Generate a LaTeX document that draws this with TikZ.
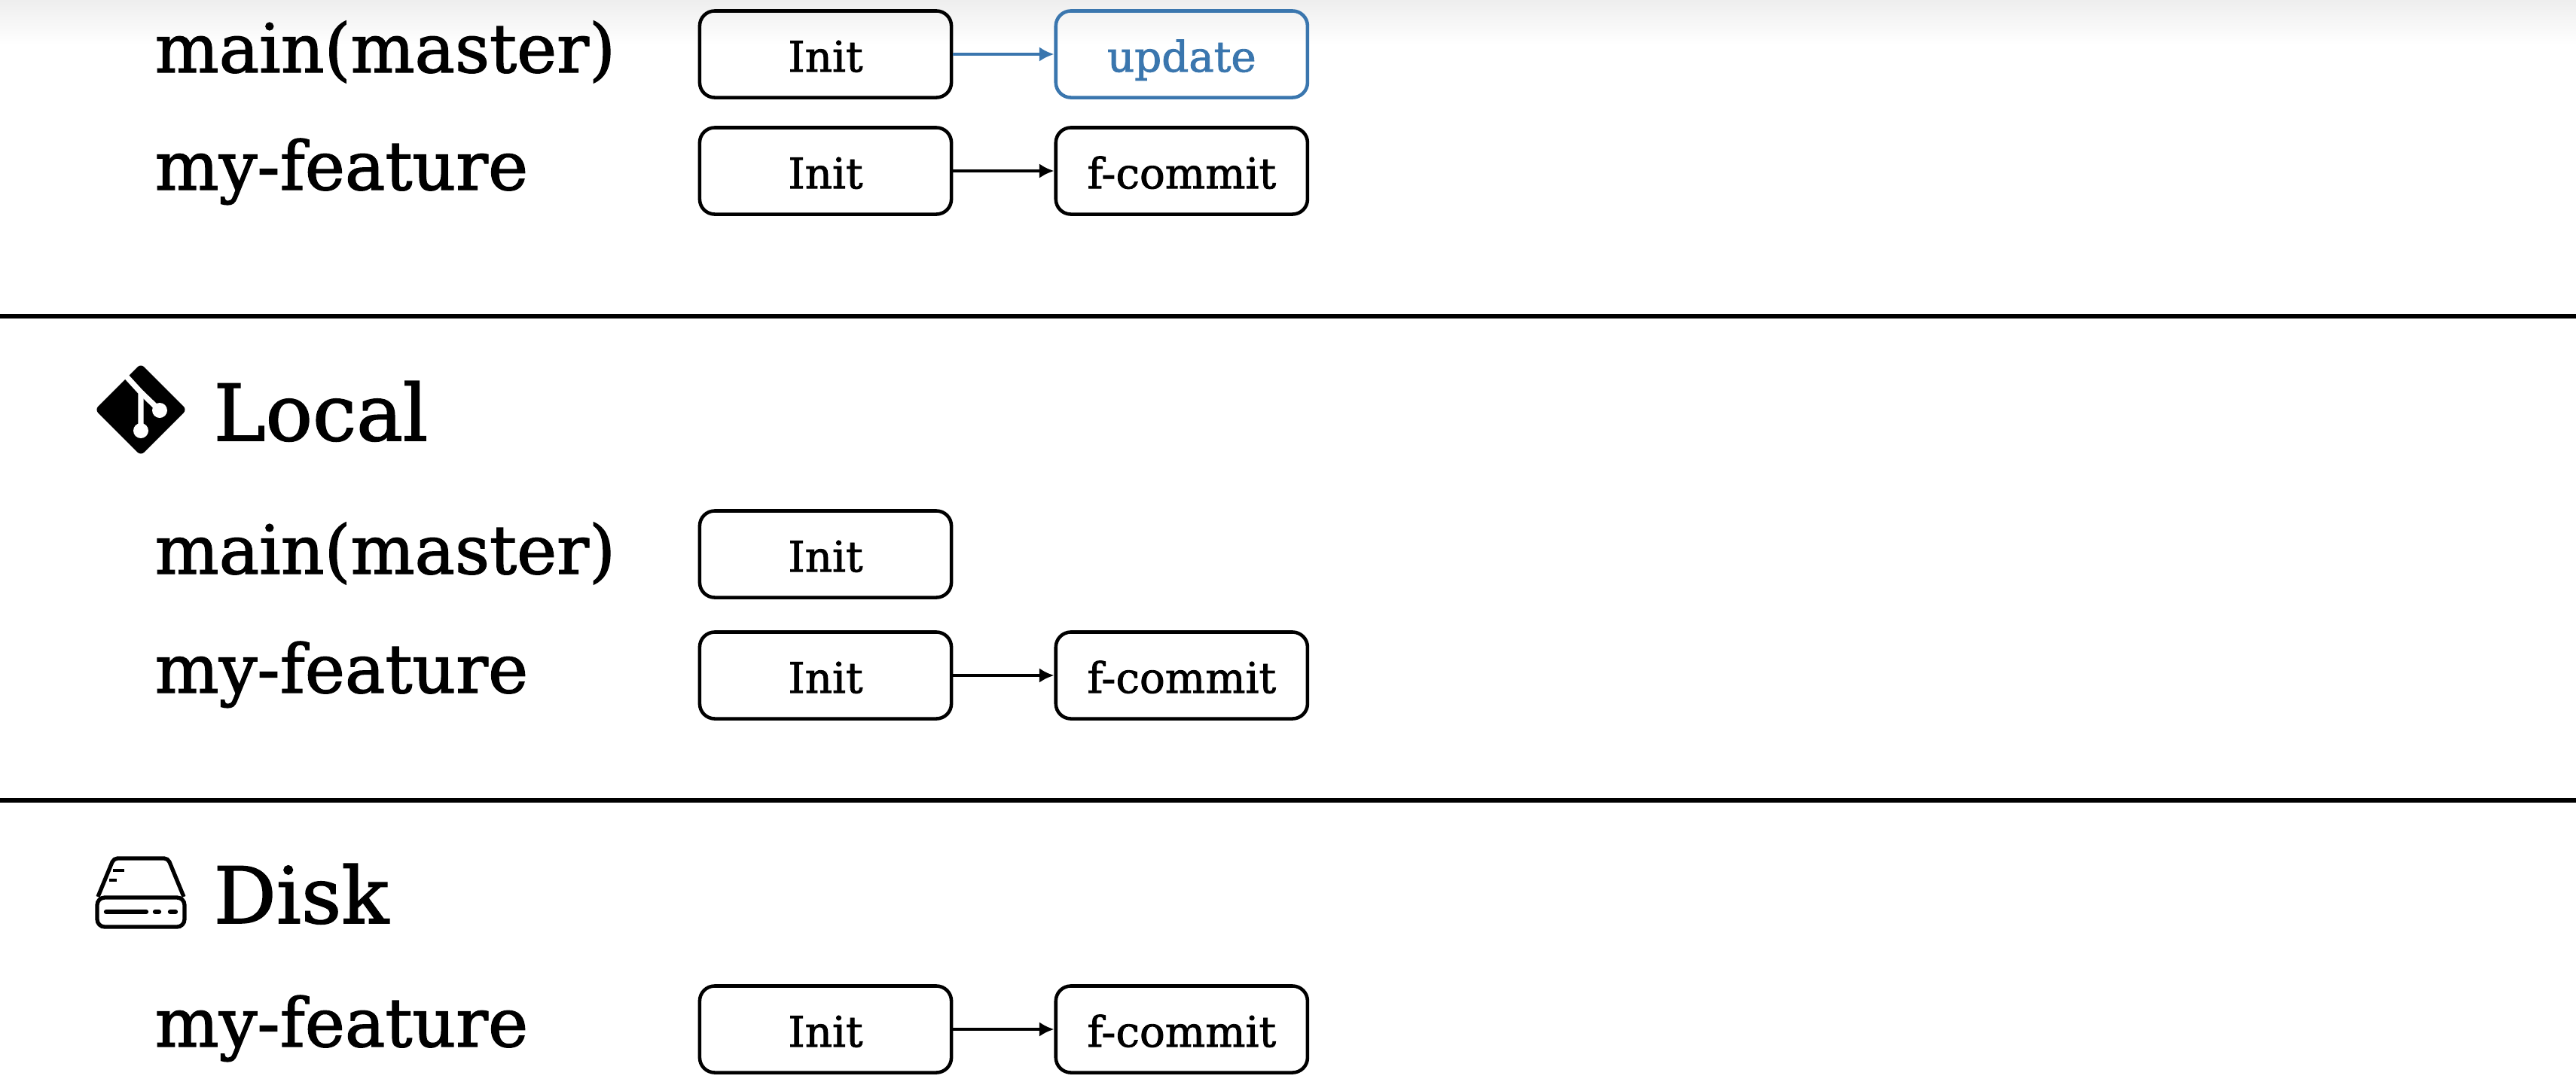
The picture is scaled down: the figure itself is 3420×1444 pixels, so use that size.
\documentclass[tikz,border=0pt]{standalone}
\usepackage{fontspec}
\setmainfont{DejaVu Serif}[AutoFakeBold=1.5]
\usepackage{xcolor}
\usepackage{tikz}
\usetikzlibrary{positioning}
\usetikzlibrary{arrows.meta}
\definecolor{bluecommit}{RGB}{58,118,174}
\definecolor{topgray}{RGB}{238,238,238}

\begin{document}
\begin{tikzpicture}[
  x = 0.01cm, y = -0.01cm,
  commit/.style = {draw, rounded corners = 0.2cm, line width = 1.3pt, minimum width = 3.34cm,
    minimum height = 1.15cm, inner sep = 0pt, text height = 13.2pt, text depth = 0pt,
    font = \fontsize{16}{18}\selectfont\bfseries},
  branch/.style = {anchor = base west, inner sep = 0pt, font = \fontsize{25.5}{30}\selectfont\bfseries},
  place/.style = {anchor = base west, inner sep = 0pt, font = \fontsize{29.5}{34}\selectfont\bfseries},
  link/.style = {-{Latex[length = 5.6pt, width = 5.6pt]}, line width = 1.2pt},
  rule/.style = {line width = 1.7pt}
]
\useasboundingbox (0,0) rectangle (3420,1444);
\shade[top color = topgray, bottom color = white, draw = none] (0,0) rectangle (3420,60);

% remote
\node[branch] (mainRemote) at (205,96) {main(master)};
\node[branch] (featureRemote) at (205,252) {my-feature};
\node[commit] (initA) at (1096,72) {Init};
\node[commit, draw = bluecommit, text = bluecommit, right = 1.34cm of initA] (updateA) {update};
\node[commit] (initB) at (1096,227) {Init};
\node[commit, right = 1.34cm of initB] (fcommitB) {f-commit};
\draw[link, bluecommit] (initA) -- (updateA);
\draw[link] (initB) -- (fcommitB);

\coordinate (ruleOneL) at (0,420);
\coordinate (ruleOneR) at (3420,420);
\draw[rule] (ruleOneL) -- (ruleOneR);

% local
\fill[rounded corners = 0.06cm] (187,483) -- (248,544) -- (187,605) -- (126,544) -- cycle;
\draw[white, line width = 2.1pt] (165,497) -- (187,521) -- (187,572);
\draw[white, line width = 2.1pt] (187,521) -- (212,545);
\fill[white] (187,572) circle (10) (212,545) circle (10);
\node[place] (localTitle) at (283,585) {Local};
\node[branch] (mainLocal) at (205,762) {main(master)};
\node[branch] (featureLocal) at (205,920) {my-feature};
\node[commit] (initC) at (1096,736) {Init};
\node[commit] (initD) at (1096,897) {Init};
\node[commit, right = 1.34cm of initD] (fcommitD) {f-commit};
\draw[link] (initD) -- (fcommitD);

\coordinate (ruleTwoL) at (0,1063);
\coordinate (ruleTwoR) at (3420,1063);
\draw[rule] (ruleTwoL) -- (ruleTwoR);

% disk
\draw[line width = 1.5pt, rounded corners = 0.05cm] (130,1191) -- (151,1140) -- (223,1140) -- (244,1191);
\draw[line width = 1.5pt, rounded corners = 0.1cm] (129,1192) rectangle (245,1231);
\draw[line width = 1.3pt] (150,1156) -- (165,1156) (145,1169) -- (155,1169);
\draw[line width = 1.8pt, line cap = round] (141,1211) -- (194,1211) (206,1211) -- (211,1211) (226,1211) -- (233,1211);
\node[place] (diskTitle) at (283,1226) {Disk};
\node[branch] (featureDisk) at (205,1390) {my-feature};
\node[commit] (initE) at (1096,1367) {Init};
\node[commit, right = 1.34cm of initE] (fcommitE) {f-commit};
\draw[link] (initE) -- (fcommitE);
\end{tikzpicture}
\end{document}
